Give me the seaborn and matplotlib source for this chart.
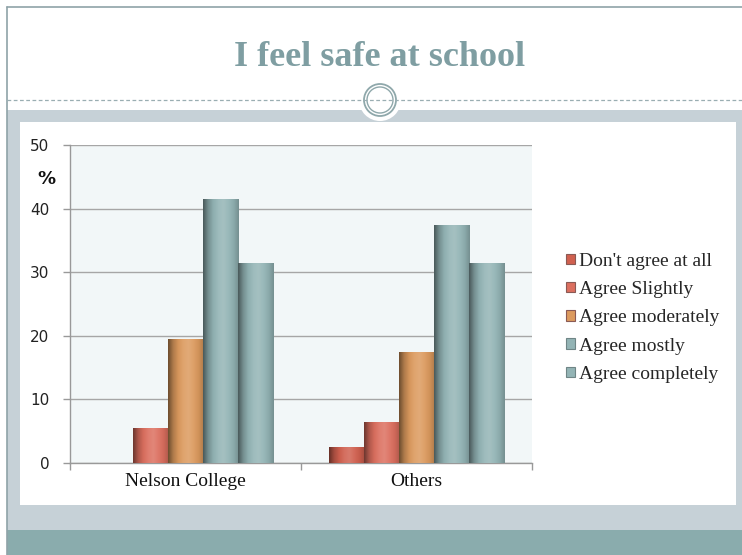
import numpy as np
import pandas as pd
import seaborn as sns
import matplotlib
matplotlib.use("Agg")
from matplotlib import pyplot as plt
from matplotlib.patches import Rectangle, Circle
from matplotlib.colors import LinearSegmentedColormap, to_rgb

# data
groups = ["Nelson College", "Others"]
responses = ["Don't agree at all", "Agree Slightly", "Agree moderately",
             "Agree mostly", "Agree completely"]
nelson_vals = [0, 5.5, 19.5, 41.5, 31.5]
others_vals = [2.5, 6.5, 17.5, 37.5, 31.5]
colors = ["#d0604f", "#dc6f5f", "#dc9a5e", "#93b4b5", "#93b4b5"]
y_ticks = [0, 10, 20, 30, 40, 50]

df = pd.DataFrame({
    "group": [g for g in groups for _ in responses],
    "response": responses * 2,
    "value": nelson_vals + others_vals,
})

sns.set_theme(style="white")
plt.rcParams["font.family"] = ["Liberation Serif", "DejaVu Serif"]

W, H = 742, 555
fig = plt.figure(figsize=(W / 100, H / 100), dpi=100)
fig.patch.set_facecolor("white")

def px_rect(x0, y0, x1, y1, **kw):
    # rectangle given in pixel coords (origin top-left)
    fig.patches.append(Rectangle((x0 / W, 1 - y1 / H), (x1 - x0) / W, (y1 - y0) / H,
                                 transform=fig.transFigure, **kw))

# slide decoration
px_rect(7, 110, W, 530, facecolor="#c6d1d7", edgecolor="none", zorder=0)
px_rect(20, 122, 736, 505, facecolor="white", edgecolor="none", zorder=0)
px_rect(7, 530, W, H, facecolor="#8aacad", edgecolor="none", zorder=0)
fig.add_artist(plt.Line2D([7 / W, 7 / W], [0, 1 - 7 / H], color="#8fa3a8", lw=1.2,
                          transform=fig.transFigure))
fig.add_artist(plt.Line2D([7 / W, 1], [1 - 7 / H, 1 - 7 / H], color="#8fa3a8", lw=1.2,
                          transform=fig.transFigure))
fig.add_artist(plt.Line2D([7 / W, 1], [1 - 100 / H, 1 - 100 / H], color="#9aaeb2", lw=0.9,
                          ls=(0, (3, 2)), transform=fig.transFigure))

# circle ornament
ax_c = fig.add_axes([0, 0, 1, 1], zorder=1)
ax_c.set_xlim(0, W)
ax_c.set_ylim(H, 0)
ax_c.axis("off")
ax_c.set_aspect("equal")
ax_c.add_patch(Circle((380, 100), 21, facecolor="white", edgecolor="none"))
ax_c.add_patch(Circle((380, 100), 16, facecolor="none", edgecolor="#8fa8ab", lw=1.3))
ax_c.add_patch(Circle((380, 100), 13, facecolor="none", edgecolor="#8fa8ab", lw=1.0))

fig.text(380 / W, 1 - 57 / H, "I feel safe at school", ha="center", va="center",
         fontsize=26, fontweight="bold", color="#7f9ea2")

ax = fig.add_axes([70 / W, 1 - 463 / H, 462 / W, 318 / H], zorder=2)
sns.barplot(data=df, x="group", y="value", hue="response", hue_order=responses,
            order=groups, palette=colors, width=0.76, saturation=1, legend=False,
            ax=ax)

ax.set_facecolor("#f2f7f8")
ax.set_ylim(0, 50)
ax.set_xlim(-0.5, 1.5)

# cylinder-ish shading on each bar
shade = np.array([0.5, 0.8, 0.97, 1.05, 1.08, 1.03, 0.95, 0.8])
for cont, col in zip(ax.containers, colors):
    base = np.array(to_rgb(col))
    stops = [np.clip(base * s if s <= 1 else base + (1 - base) * (s - 1) * 2, 0, 1)
             for s in shade]
    cmap = LinearSegmentedColormap.from_list("cyl", stops)
    for bar in cont.patches:
        h = bar.get_height()
        if h <= 0:
            continue
        x0 = bar.get_x()
        w = bar.get_width()
        grad = np.linspace(0, 1, 64).reshape(1, -1)
        im = ax.imshow(grad, cmap=cmap, extent=(x0, x0 + w, 0, h), aspect="auto",
                       zorder=3, interpolation="bicubic")
        im.set_clip_path(bar)
        bar.set_edgecolor("none")
ax.set_ylim(0, 50)
ax.set_xlim(-0.5, 1.5)

ax.set_yticks(y_ticks)
ax.set_yticklabels([str(v) for v in y_ticks], family=["DejaVu Sans"], fontsize=11,
                   color="#222222")
ax.yaxis.grid(True, color="#a6a6a6", lw=1.0)
ax.set_axisbelow(True)
ax.set_xticks([-0.5, 0.5, 1.5])
ax.set_xticklabels(["", "", ""])
ax.set_xticks([0, 1], minor=True)
ax.set_xticklabels(groups, minor=True, fontsize=14, color="#111111")
ax.tick_params(axis="x", which="minor", length=0, pad=7)
ax.tick_params(axis="x", which="major", length=5, width=1, color="#999999",
               direction="out", bottom=True)
ax.tick_params(axis="y", length=5, width=1, color="#999999", direction="out",
               left=True, pad=10)
ax.set_xlabel("")
ax.set_ylabel("")
for side in ["top", "right"]:
    ax.spines[side].set_visible(False)
for side in ["left", "bottom"]:
    ax.spines[side].set_color("#999999")
    ax.spines[side].set_linewidth(1)

fig.text(46 / W, 1 - 179 / H, "%", ha="center", va="center", fontsize=13,
         fontweight="bold", family=["DejaVu Sans"], color="#111111")

handles = [Rectangle((0, 0), 1, 1, facecolor=c, edgecolor="#8a5a55" if i < 3 else "#6f8586",
                     lw=0.8) for i, c in enumerate(colors)]
fig.legend(handles, responses, loc="upper left",
           bbox_to_anchor=(558 / W, 1 - 245 / H), frameon=False, fontsize=14,
           handlelength=0.45, handleheight=0.45, handletextpad=0.25,
           labelspacing=0.58, borderaxespad=0)

fig.savefig("out.png", dpi=100)
